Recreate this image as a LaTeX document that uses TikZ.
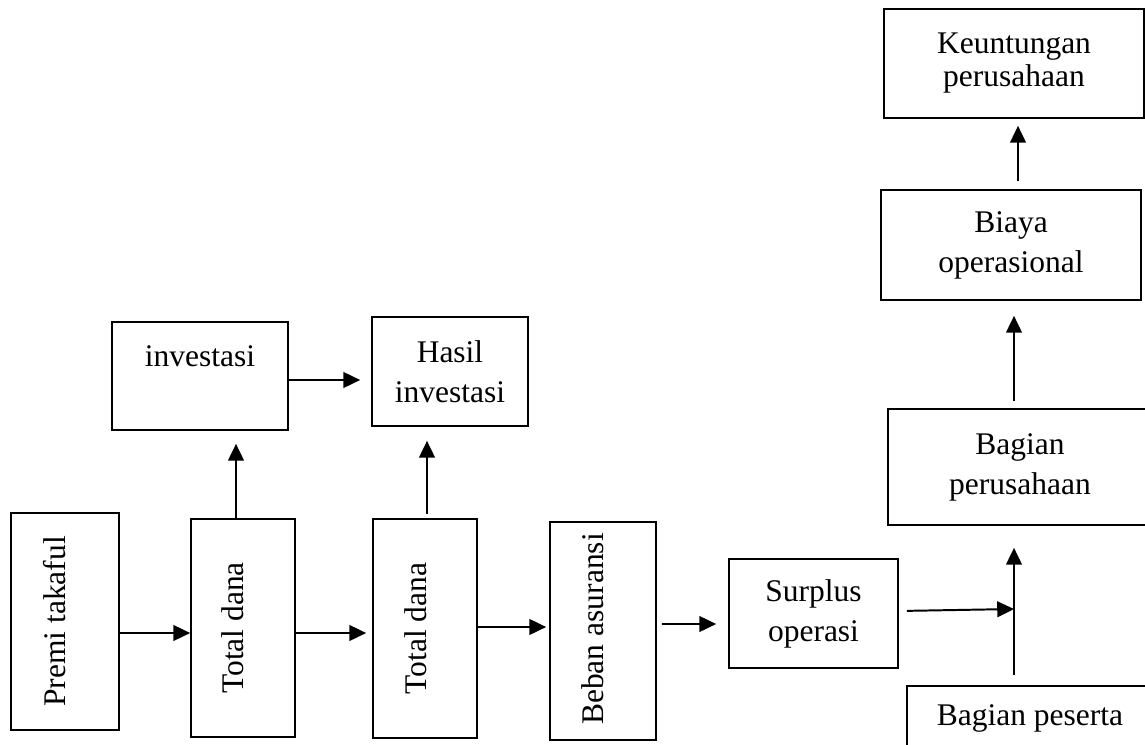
\documentclass[tikz,border=0pt]{standalone}
\usepackage{fontspec}
\setmainfont{Liberation Serif}
\usepackage{tikz}
\usetikzlibrary{arrows.meta}
\usetikzlibrary{positioning}

\newlength{\pxu}
\setlength{\pxu}{0.381pt}

\begin{document}
\begin{tikzpicture}[x=0.381pt, y=-0.381pt, % one unit is one pixel of the sketch
			block/.style={
					rectangle,
					draw,
					line width=0.65pt,
					align=center,
					inner sep=0pt,
					font=\fontsize{12pt}{15.2pt}\selectfont
				},
			vtext/.style={rotate=90, inner sep=0pt, font=\fontsize{12pt}{15.2pt}\selectfont},
			line/.style={draw, line width=0.75pt, -{Triangle[length=6.4pt, width=6pt]}}
		]
		\useasboundingbox (0,0) rectangle (1145,745);
		\clip (0,0) rectangle (1145,745);
		% Place nodes
		\node [block, minimum width=108\pxu, minimum height=217\pxu] (premi) at (65,621.5) {};
		\node [block, minimum width=104\pxu, minimum height=218\pxu] (dana1) at (243,628) {};
		\node [block, minimum width=104\pxu, minimum height=219\pxu] (dana2) at (425,628.5) {};
		\node [block, minimum width=106\pxu, minimum height=218\pxu] (beban) at (603,631) {};
		\node [block, minimum width=169\pxu, minimum height=109\pxu] (surplus) at (813.5,613.5) {Surplus\\operasi};
		\node [block, minimum width=176\pxu, minimum height=108\pxu] (invest) at (200,376) {investasi\\\mbox{}};
		\node [block, minimum width=156\pxu, minimum height=109\pxu] (hasil) at (450,371.5) {Hasil\\investasi};
		\node [block, minimum width=246\pxu, minimum height=64\pxu] (peserta) at (1030,718) {Bagian peserta};
		\node [block, minimum width=264\pxu, minimum height=116\pxu] (bagpsh) at (1020,467) {Bagian\\perusahaan};
		\node [block, minimum width=260\pxu, minimum height=110\pxu] (biaya) at (1011,245) {Biaya\\operasional};
		\node [block, minimum width=260\pxu, minimum height=109\pxu, font=\fontsize{12pt}{12.6pt}\selectfont] (untung) at (1014,63.5) {Keuntungan\\perusahaan};
		% Rotated captions
		\node [vtext] (premitext) at ([xshift=-10\pxu]premi.center) {Premi takaful};
		\node [vtext] (dana1text) at ([xshift=-10\pxu]dana1.center) {Total dana};
		\node [vtext] (dana2text) at ([xshift=-9\pxu]dana2.center) {Total dana};
		\node [vtext] (bebantext) at ([xshift=-10\pxu, yshift=2\pxu]beban.center) {Beban asuransi};
		\coordinate (join) at (1014,609);
		% Draw edges
		\path [line] ([yshift=-11.5\pxu]premi.east) -- ([yshift=-5\pxu]dana1.west);
		\path [line, shorten >=6\pxu] ([yshift=-5\pxu]dana1.east) -- ([yshift=-4.5\pxu]dana2.west);
		\path [line, shorten >=3\pxu] ([yshift=1.5\pxu]dana2.east) -- ([yshift=4\pxu]beban.west);
		\path [line, shorten <=5\pxu, shorten >=12\pxu] ([yshift=7\pxu]beban.east) -- ([yshift=-10.5\pxu]surplus.west);
		\path [line, shorten <=8\pxu] ([yshift=2.5\pxu]surplus.east) -- (join);
		\path [line, shorten <=10\pxu, shorten >=22\pxu] (peserta.north -| join) -- (bagpsh.south -| join);
		\path [line, shorten <=7\pxu, shorten >=15\pxu] (bagpsh.north -| join) -- (biaya.south -| join);
		\path [line, shorten <=8\pxu, shorten >=7\pxu] ([xshift=7\pxu]biaya.north) -- ([xshift=4\pxu]untung.south);
		\path [line, shorten >=13\pxu] ([xshift=-7\pxu]dana1.north) -- ([xshift=-7\pxu]dana1.north |- invest.south);
		\path [line, shorten <=4\pxu, shorten >=14\pxu] ([xshift=2\pxu]dana2.north) -- ([xshift=2\pxu]dana2.north |- hasil.south);
		\path [line, shorten >=11\pxu] ([yshift=-4\pxu]invest.east) -- ([yshift=-4\pxu]invest.east -| hasil.west);
	\end{tikzpicture}
\end{document}
